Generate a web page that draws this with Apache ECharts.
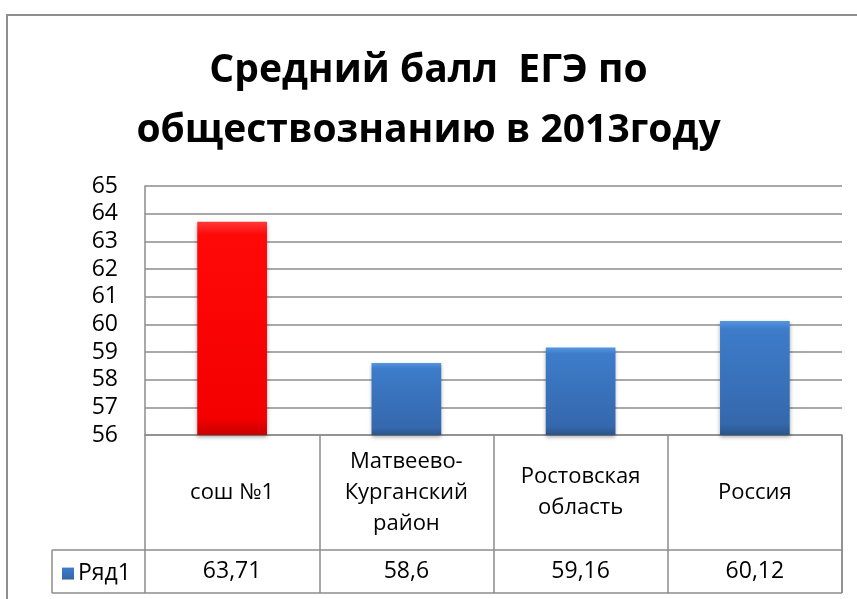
<!DOCTYPE html>
<html>
<head>
<meta charset="utf-8">
<script src="https://cdn.jsdelivr.net/npm/echarts@6/dist/echarts.min.js"></script>
<style>
html,body{margin:0;padding:0;background:#fff;}
#c{width:857px;height:599px;}
</style>
</head>
<body>
<div id="c"></div>
<script>
const titleText = 'Средний балл  ЕГЭ по\nобществознанию в 2013году';
const categories = ['сош №1', 'Матвеево-\nКурганский\nрайон', 'Ростовская\nобласть', 'Россия'];
const values = [63.71, 58.6, 59.16, 60.12];
const valueLabels = ['63,71', '58,6', '59,16', '60,12'];
const seriesName = 'Ряд1';
const yMin = 56, yMax = 65, yStep = 1;

const FONT = 'Open Sans';
const gridL = 145, gridR = 842, gridT = 186, gridB = 435;
const rowCatB = 550, rowValB = 593, legendL = 52;
const lineCol = '#8c8c8c';

const blueGrad = new echarts.graphic.LinearGradient(0, 0, 0, 1, [
  {offset: 0, color: '#5596e0'},
  {offset: 0.07, color: '#3d7cca'},
  {offset: 0.9, color: '#3568ad'},
  {offset: 1, color: '#2a5589'}
]);
const redGrad = new echarts.graphic.LinearGradient(0, 0, 0, 1, [
  {offset: 0, color: '#ff3a3a'},
  {offset: 0.06, color: '#ff0808'},
  {offset: 0.92, color: '#f40000'},
  {offset: 1, color: '#c80000'}
]);

const chart = echarts.init(document.getElementById('c'), null, {renderer: 'canvas'});
const W = 857, H = 599;

const option = {
  animation: false,
  backgroundColor: '#fff',
  title: {
    text: titleText,
    left: 'center',
    top: 36,
    padding: [5, 5, 5, 22],
    textStyle: {fontFamily: FONT, fontSize: 39, fontWeight: 'bold', color: '#000', lineHeight: 60}
  },
  legend: {
    data: [{name: seriesName, icon: 'rect'}],
    left: legendL + 5,
    top: rowCatB + 7,
    itemWidth: 12, itemHeight: 12, itemGap: 6,
    textStyle: {fontFamily: FONT, fontSize: 23, color: '#000', padding: [0,0,0,-1]}
  },
  grid: {left: gridL, right: W - gridR, top: gridT, bottom: H - gridB, containLabel: false},
  xAxis: [{
    type: 'category',
    data: categories,
    axisLine: {show: true, lineStyle: {color: lineCol, width: 1.5}},
    axisTick: {show: true, alignWithLabel: false, length: rowValB - gridB, lineStyle: {color: lineCol, width: 1.5}},
    axisLabel: {
      interval: 0, margin: (rowCatB - gridB) / 2, verticalAlign: 'middle',
      fontFamily: FONT, fontSize: 22, color: '#000', lineHeight: 31
    }
  }, {
    type: 'category',
    data: valueLabels,
    position: 'bottom',
    offset: rowCatB - gridB,
    axisLine: {show: false},
    axisTick: {show: false},
    axisLabel: {
      interval: 0, margin: (rowValB - rowCatB) / 2, verticalAlign: 'middle',
      fontFamily: FONT, fontSize: 23, color: '#000'
    }
  }],
  yAxis: {
    type: 'value',
    min: yMin, max: yMax, interval: yStep,
    axisLine: {show: true, lineStyle: {color: lineCol, width: 1.5}},
    axisTick: {show: false},
    axisLabel: {margin: 27, fontFamily: FONT, fontSize: 23, color: '#000'},
    splitLine: {show: true, lineStyle: {color: lineCol, width: 1.5}}
  },
  series: [{
    name: seriesName,
    type: 'bar',
    barWidth: '40%',
    data: values.map((v, i) => i === 0 ? {value: v, itemStyle: {color: redGrad}} : v),
    itemStyle: {color: blueGrad, shadowColor: 'rgba(0,0,0,0.35)', shadowBlur: 4, shadowOffsetY: 2}
  }],
  graphic: [
    {type: 'rect', shape: {x: 7, y: 15, width: 1000, height: 1000}, style: {fill: null, stroke: '#8f8f8f', lineWidth: 2}, z: 100, silent: true},
    {type: 'line', shape: {x1: legendL, y1: rowCatB, x2: gridR, y2: rowCatB}, style: {stroke: lineCol, lineWidth: 1.5}, z: 100},
    {type: 'line', shape: {x1: legendL, y1: rowValB, x2: gridR, y2: rowValB}, style: {stroke: lineCol, lineWidth: 1.5}, z: 100},
    {type: 'line', shape: {x1: legendL, y1: rowCatB, x2: legendL, y2: rowValB}, style: {stroke: lineCol, lineWidth: 1.5}, z: 100},
    {type: 'line', shape: {x1: gridR, y1: gridB, x2: gridR, y2: rowValB}, style: {stroke: lineCol, lineWidth: 1.5}, z: 100}
  ]
};
chart.setOption(option);
</script>
</body>
</html>
